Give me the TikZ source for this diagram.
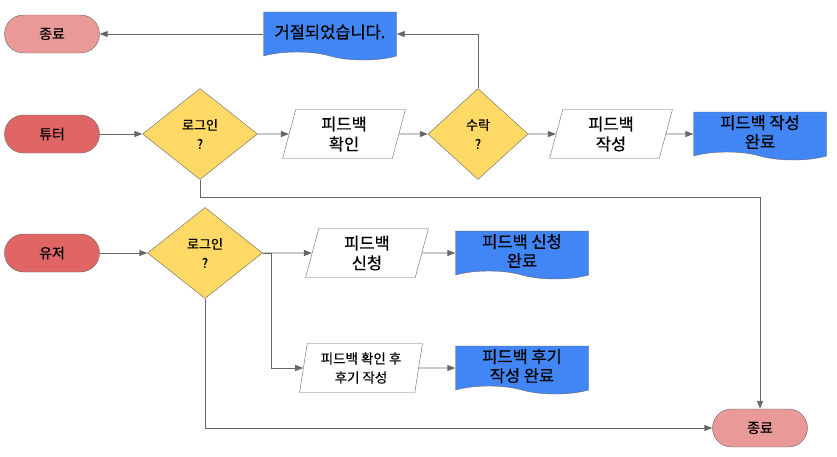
\documentclass[tikz,border=0pt]{standalone}
\usepackage{fontspec}
\setmainfont{Noto Sans CJK KR}[FakeBold=0.5]
\usetikzlibrary{shapes.geometric,shapes.symbols,arrows.meta}
\definecolor{endred}{HTML}{EA9999}
\definecolor{startred}{HTML}{E06666}
\definecolor{askyellow}{HTML}{FFD966}
\definecolor{docblue}{HTML}{4285F4}
\definecolor{linegray}{HTML}{666666}

\tikzset{
  term/.style={draw=linegray, rounded corners=19pt, minimum width=95pt, minimum height=38pt,
    font=\fontsize{14}{16}\selectfont},
  ask/.style={diamond, draw=linegray, fill=askyellow, aspect=1.27, minimum width=115pt,
    minimum height=91pt, inner sep=0pt, align=center, font=\fontsize{13}{19}\selectfont},
  io/.style={trapezium, trapezium left angle=80, trapezium right angle=100, trapezium stretches=true,
    draw=linegray, fill=white, minimum width=123pt, minimum height=49pt, inner sep=1pt, align=center,
    font=\fontsize{16.5}{20}\selectfont},
  doc/.style={tape, tape bend top=none, tape bend bottom=out and in, tape bend height=8pt,
    draw=linegray, fill=docblue, minimum width=133pt, minimum height=48pt, inner sep=1pt,
    align=center, font=\fontsize{16.5}{19}\selectfont},
  arr/.style={draw=linegray, line width=0.9pt, -{Triangle[length=8pt,width=6pt]}}
}

\begin{document}
\begin{tikzpicture}[x=1pt,y=-1pt]
  \useasboundingbox (0,0) rectangle (837,456);

  % tutor row
  \node[term, fill=endred] (end1) at (52,34) {종료};
  \node[doc] (rej) at (330,32) {거절되었습니다.};
  \node[term, fill=startred] (tutor) at (52,134) {튜터};
  \node[ask] (login1) at (200,134) {로그인\\?};
  \node[io] (chk) at (344,134) {피드백\\확인};
  \node[ask, minimum width=100pt, aspect=1.1] (acc) at (478,134) {수락\\?};
  \node[io] (write) at (611,134) {피드백\\작성};
  \node[doc] (wdone) at (760,132) {피드백 작성\\완료};

  % user row
  \node[term, fill=startred] (user) at (52,253) {유저};
  \node[ask] (login2) at (205,253) {로그인\\?};
  \node[io] (req) at (367,253) {피드백\\신청};
  \node[doc] (rdone) at (522,251) {피드백 신청\\완료};
  \node[io, font=\fontsize{13.5}{19}\selectfont] (rev) at (361,368) {피드백 확인 후\\후기 작성};
  \node[doc] (vdone) at (522,366) {피드백 후기\\작성 완료};
  \node[term, fill=endred] (end2) at (760,428) {종료};

  \draw[arr] (rej.west |- end1) -- (end1);
  \draw[arr] (acc.north) |- (rej.east |- end1);
  \draw[arr] (tutor) -- (login1);
  \draw[arr] (login1) -- (chk);
  \draw[arr] (chk) -- (acc);
  \draw[arr] (acc) -- (write);
  \draw[arr] (write) -- (write -| wdone.west);
  \draw[arr] (login1.south) -- ++(0,18) -| (end2.north);

  \draw[arr] (user) -- (login2);
  \draw[arr] (login2) -- (req);
  \draw[arr] (req) -- (req -| rdone.west);
  \draw[arr] (login2.east) -- ++(9,0) |- (rev);
  \draw[arr] (rev) -- (rev -| vdone.west);
  \draw[arr] (login2.south) |- (end2);
\end{tikzpicture}
\end{document}
